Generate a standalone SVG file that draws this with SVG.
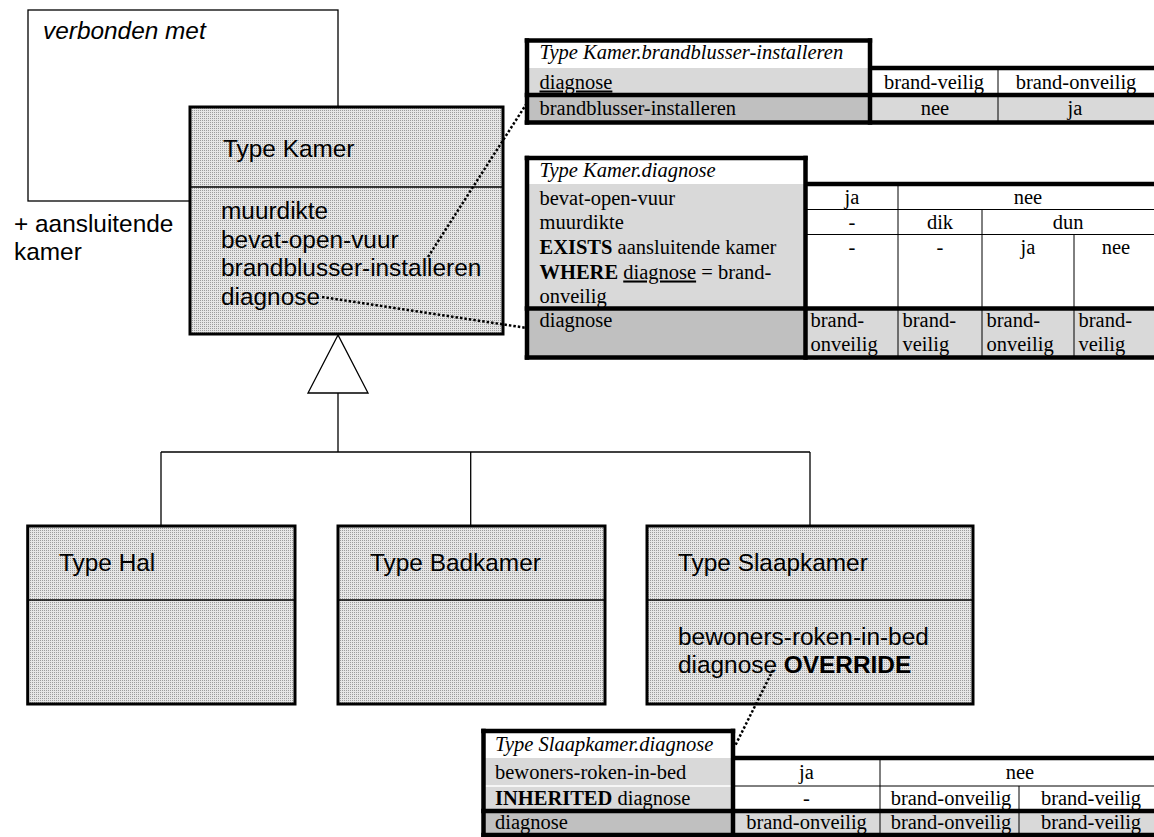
<svg xmlns="http://www.w3.org/2000/svg" width="1154" height="837" viewBox="0 0 1154 837">
<defs>
<pattern id="dots" width="2" height="2" patternUnits="userSpaceOnUse">
<rect width="2" height="2" fill="#e6e6e6"/>
<rect width="1" height="1" fill="#9c9c9c"/>
</pattern>
<style>
.sans{font-family:"Liberation Sans",Arial,sans-serif;font-size:24.4px;fill:#000}
.serif{font-family:"Liberation Serif","Times New Roman",serif;font-size:20.5px;fill:#000}
.it{font-style:italic}
.b{font-weight:bold}
.mid{text-anchor:middle}
.box{fill:url(#dots);stroke:#000;stroke-width:3}
.thin{stroke:#000;stroke-width:1.3;fill:none}
.thick{stroke:#000;stroke-width:4.5;fill:none}
.tl{stroke:#000;stroke-width:1;fill:none}
.dot{stroke:#000;stroke-width:2.5;stroke-dasharray:2.5 2;fill:none}
.lg{fill:#d9d9d9}
.dg{fill:#c0c0c0}
.wh{fill:#fff}
</style>
</defs>
<rect width="1154" height="837" fill="#fff"/>

<g id="verbonden-met">
<rect x="28" y="10" width="310" height="191" fill="#fff" class="thin"/>
<text x="43" y="39" class="sans it">verbonden met</text>
<text x="14" y="232" class="sans">+ aansluitende</text>
<text x="14" y="260" class="sans">kamer</text>
</g>

<g id="connectors">
<polygon points="338,335 308,393 368,393" fill="#fff" class="thin"/>
<line x1="338" y1="393" x2="338" y2="452" class="thin"/>
<line x1="161" y1="452" x2="810" y2="452" class="thin"/>
<line x1="161" y1="452" x2="161" y2="526" class="thin"/>
<line x1="470.7" y1="452" x2="470.7" y2="526" class="thin"/>
<line x1="810" y1="452" x2="810" y2="526" class="thin"/>
</g>

<g id="type-kamer">
<rect x="190" y="107" width="313" height="227" class="box"/>
<line x1="190" y1="187" x2="503" y2="187" class="thin"/>
<text x="223" y="157" class="sans">Type Kamer</text>
<text x="221" y="219" class="sans">muurdikte</text>
<text x="221" y="247.5" class="sans">bevat-open-vuur</text>
<text x="221" y="276" class="sans">brandblusser-installeren</text>
<text x="221" y="304.5" class="sans">diagnose</text>
</g>

<g id="type-hal">
<rect x="27.7" y="526" width="267.3" height="178" class="box"/>
<line x1="27.7" y1="600" x2="295" y2="600" class="thin"/>
<text x="59" y="571" class="sans">Type Hal</text>
</g>

<g id="type-badkamer">
<rect x="338" y="526" width="267" height="178" class="box"/>
<line x1="338" y1="600" x2="605" y2="600" class="thin"/>
<text x="370" y="571" class="sans">Type Badkamer</text>
</g>

<g id="type-slaapkamer">
<rect x="647" y="526" width="326" height="178" class="box"/>
<line x1="647" y1="600" x2="973" y2="600" class="thin"/>
<text x="678" y="571" class="sans">Type Slaapkamer</text>
<text x="678" y="645" class="sans">bewoners-roken-in-bed</text>
<text x="678" y="673" class="sans">diagnose <tspan class="b">OVERRIDE</tspan></text>
</g>

<g id="table-brandblusser">
<rect x="527" y="40.5" width="343" height="27.5" class="wh"/>
<rect x="527" y="68" width="343" height="27" class="lg"/>
<rect x="527" y="95" width="343" height="27.5" class="dg"/>
<rect x="870" y="68" width="284" height="27" class="wh"/>
<rect x="870" y="95" width="284" height="27.5" class="lg"/>
<line x1="998" y1="68" x2="998" y2="122.5" class="tl"/>
<line x1="527" y1="38.3" x2="527" y2="124.7" class="thick"/>
<line x1="524.7" y1="40.5" x2="872.2" y2="40.5" class="thick"/>
<line x1="870" y1="38.3" x2="870" y2="124.7" class="thick"/>
<line x1="870" y1="68" x2="1154" y2="68" class="thick"/>
<line x1="524.7" y1="95" x2="1154" y2="95" class="thick"/>
<line x1="524.7" y1="122.5" x2="1154" y2="122.5" class="thick"/>
<text x="539.5" y="59" class="serif it">Type Kamer.brandblusser-installeren</text>
<text x="539.5" y="88.5" class="serif" text-decoration="underline">diagnose</text>
<text x="539.5" y="115" class="serif">brandblusser-installeren</text>
<text x="934" y="88.5" class="serif mid">brand-veilig</text>
<text x="1076" y="88.5" class="serif mid">brand-onveilig</text>
<text x="935" y="115" class="serif mid">nee</text>
<text x="1075" y="115" class="serif mid">ja</text>
</g>

<g id="table-diagnose">
<rect x="527" y="158" width="278.5" height="26" class="wh"/>
<rect x="527" y="184" width="278.5" height="124.5" class="lg"/>
<rect x="527" y="308.5" width="278.5" height="49" class="dg"/>
<rect x="805.5" y="184" width="348.5" height="124.5" class="wh"/>
<rect x="805.5" y="308.5" width="348.5" height="49" class="lg"/>
<line x1="805.5" y1="209.5" x2="1154" y2="209.5" class="tl"/>
<line x1="805.5" y1="234.5" x2="1154" y2="234.5" class="tl"/>
<line x1="898" y1="184" x2="898" y2="357.5" class="tl"/>
<line x1="982" y1="209.5" x2="982" y2="357.5" class="tl"/>
<line x1="1074" y1="234.5" x2="1074" y2="357.5" class="tl"/>
<line x1="527" y1="155.7" x2="527" y2="359.7" class="thick"/>
<line x1="524.7" y1="158" x2="807.7" y2="158" class="thick"/>
<line x1="805.5" y1="155.7" x2="805.5" y2="359.7" class="thick"/>
<line x1="805.5" y1="184" x2="1154" y2="184" class="thick"/>
<line x1="524.7" y1="308.5" x2="1154" y2="308.5" class="thick"/>
<line x1="524.7" y1="357.5" x2="1154" y2="357.5" class="thick"/>
<text x="539.5" y="177" class="serif it">Type Kamer.diagnose</text>
<text x="539.5" y="204.5" class="serif">bevat-open-vuur</text>
<text x="539.5" y="229" class="serif">muurdikte</text>
<text x="539.5" y="254" class="serif"><tspan class="b">EXISTS</tspan> aansluitende kamer</text>
<text x="539.5" y="278.5" class="serif"><tspan class="b">WHERE</tspan> <tspan text-decoration="underline">diagnose</tspan> = brand-</text>
<text x="539.5" y="302.5" class="serif">onveilig</text>
<text x="539.5" y="327" class="serif">diagnose</text>
<text x="852" y="204" class="serif mid">ja</text>
<text x="1028" y="204" class="serif mid">nee</text>
<text x="852" y="229" class="serif mid">-</text>
<text x="940" y="229" class="serif mid">dik</text>
<text x="1068" y="229" class="serif mid">dun</text>
<text x="852" y="254" class="serif mid">-</text>
<text x="940" y="254" class="serif mid">-</text>
<text x="1028" y="254" class="serif mid">ja</text>
<text x="1116" y="254" class="serif mid">nee</text>
<text x="810.5" y="327" class="serif">brand-</text>
<text x="810.5" y="351" class="serif">onveilig</text>
<text x="902.5" y="327" class="serif">brand-</text>
<text x="902.5" y="351" class="serif">veilig</text>
<text x="986.5" y="327" class="serif">brand-</text>
<text x="986.5" y="351" class="serif">onveilig</text>
<text x="1078.5" y="327" class="serif">brand-</text>
<text x="1078.5" y="351" class="serif">veilig</text>
</g>

<g id="table-slaapkamer">
<rect x="483.5" y="731" width="249.5" height="27" class="wh"/>
<rect x="483.5" y="758" width="249.5" height="53" class="lg"/>
<rect x="483.5" y="811" width="249.5" height="24.5" class="dg"/>
<rect x="733" y="758" width="421" height="53" class="wh"/>
<rect x="733" y="811" width="421" height="24.5" class="lg"/>
<line x1="483.5" y1="786" x2="733" y2="786" stroke="#fff" stroke-width="1.5"/>
<line x1="733" y1="786" x2="1154" y2="786" class="tl"/>
<line x1="880" y1="758" x2="880" y2="835.5" class="tl"/>
<line x1="1019" y1="786" x2="1019" y2="835.5" class="tl"/>
<line x1="483.5" y1="728.7" x2="483.5" y2="837" class="thick"/>
<line x1="481.2" y1="731" x2="735.2" y2="731" class="thick"/>
<line x1="733" y1="728.7" x2="733" y2="837" class="thick"/>
<line x1="733" y1="758" x2="1154" y2="758" class="thick"/>
<line x1="481.2" y1="811" x2="1154" y2="811" class="thick"/>
<line x1="481.2" y1="835" x2="1154" y2="835" class="thick"/>
<text x="495" y="751" class="serif it">Type Slaapkamer.diagnose</text>
<text x="495" y="779" class="serif">bewoners-roken-in-bed</text>
<text x="495" y="805" class="serif"><tspan class="b">INHERITED</tspan> diagnose</text>
<text x="495" y="829" class="serif">diagnose</text>
<text x="806.5" y="779" class="serif mid">ja</text>
<text x="1020" y="779" class="serif mid">nee</text>
<text x="806.5" y="805" class="serif mid">-</text>
<text x="951" y="805" class="serif mid">brand-onveilig</text>
<text x="1091" y="805" class="serif mid">brand-veilig</text>
<text x="806.5" y="829" class="serif mid">brand-onveilig</text>
<text x="951" y="829" class="serif mid">brand-onveilig</text>
<text x="1091" y="829" class="serif mid">brand-veilig</text>
</g>

<g id="note-links">
<line x1="428" y1="257" x2="527" y2="103" class="dot"/>
<line x1="322" y1="297" x2="527" y2="328" class="dot"/>
<line x1="773" y1="670" x2="735" y2="746" class="dot"/>
</g>
</svg>
